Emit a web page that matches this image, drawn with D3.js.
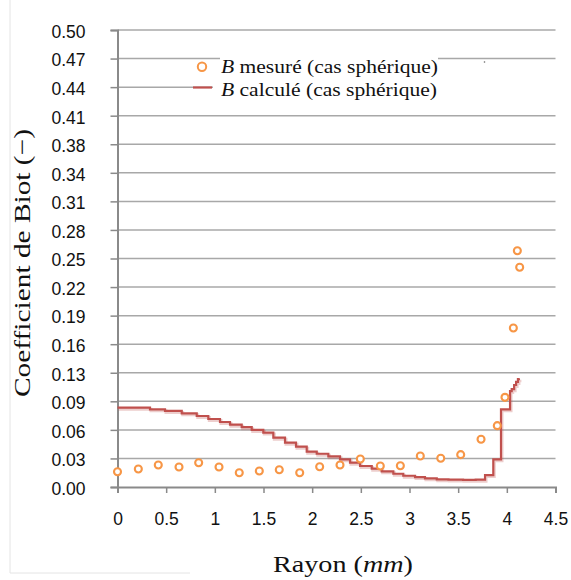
<!DOCTYPE html>
<html>
<head>
<meta charset="utf-8">
<script src="https://cdn.jsdelivr.net/npm/d3@7/dist/d3.min.js"></script>
<style>
  html, body { margin: 0; padding: 0; background: #fff; }
  svg { display: block; }
</style>
</head>
<body>
<svg id="chart" width="571" height="580"></svg>
<script>
// ---- data ----
const xTickValues = [0, 0.5, 1, 1.5, 2, 2.5, 3, 3.5, 4, 4.5];
const xTickLabels = ["0", "0.5", "1", "1.5", "2", "2.5", "3", "3.5", "4", "4.5"];
const yTickValues = d3.range(17).map(i => i * 0.5 / 16);
const yTickLabels = ["0.00","0.03","0.06","0.09","0.13","0.16","0.19","0.22","0.25","0.28","0.31","0.34","0.38","0.41","0.44","0.47","0.50"];

// measured (circles)
const mesX = [0, 0.214, 0.419, 0.632, 0.834, 1.043, 1.251, 1.457, 1.662, 1.872, 2.077, 2.286, 2.495, 2.70, 2.906, 3.111, 3.321, 3.526, 3.735, 3.902, 3.981, 4.067, 4.108, 4.132];
const mesY = [0.0167, 0.0197, 0.0241, 0.0219, 0.0265, 0.0219, 0.0156, 0.0175, 0.0189, 0.0156, 0.0222, 0.0241, 0.0306, 0.0230, 0.0233, 0.0339, 0.0314, 0.0354, 0.0522, 0.0671, 0.0981, 0.174, 0.2585, 0.2404];

// calculated (step line)
const calcX = [0, 0.334, 0.488, 0.66, 0.814, 0.933, 1.053, 1.156, 1.276, 1.379, 1.498, 1.601, 1.721, 1.834, 1.944, 2.047, 2.166, 2.286, 2.389, 2.492, 2.612, 2.714, 2.834, 2.936, 3.057, 3.159, 3.28, 3.40, 3.55, 3.68, 3.776, 3.861, 3.94, 4.033, 4.05, 4.075, 4.095, 4.114, 4.124];
const calcY = [0.0868, 0.0850, 0.0832, 0.0806, 0.0777, 0.0744, 0.0711, 0.0682, 0.0654, 0.0624, 0.0595, 0.0540, 0.0485, 0.0441, 0.0387, 0.0364, 0.0336, 0.0303, 0.0266, 0.0230, 0.0200, 0.0172, 0.0145, 0.0123, 0.0109, 0.0095, 0.0084, 0.0081, 0.0079, 0.0080, 0.0131, 0.0303, 0.0850, 0.105, 0.107, 0.1116, 0.115, 0.118, 0.119];

const legendLabels = ["mesuré (cas sphérique)", "calculé (cas sphérique)"];

// ---- layout ----
const svg = d3.select("#chart");
const x = d3.scaleLinear().domain([0, 4.5]).range([117.5, 555.5]);
const y = d3.scaleLinear().domain([0, 0.5]).range([487, 30]);

const gridColor = "#a8a8a8";
const axisColor = "#8a8a8a";
const orange = "#f79646";
const red = "#c0504d";
const serif = "'Liberation Serif', 'Times New Roman', serif";
const sans = "'Liberation Sans', Arial, Helvetica, sans-serif";

svg.append("rect").attr("width", 571).attr("height", 580).attr("fill", "#fff");

// faint page border artifacts
svg.append("line").attr("x1", 10).attr("x2", 10).attr("y1", 0).attr("y2", 573)
  .attr("stroke", "#e4e4e4").attr("stroke-width", 1);
svg.append("line").attr("x1", 10).attr("x2", 190).attr("y1", 573).attr("y2", 573)
  .attr("stroke", "#e4e4e4").attr("stroke-width", 1);

// gridlines
svg.append("g").selectAll("line").data(yTickValues.filter(v => v > 0)).join("line")
  .attr("x1", x(0)).attr("x2", x(4.5))
  .attr("y1", d => y(d)).attr("y2", d => y(d))
  .attr("stroke", gridColor).attr("stroke-width", 1.5);

// y axis
const yAxis = d3.axisLeft(y).tickValues(yTickValues)
  .tickFormat((d, i) => yTickLabels[i]).tickSize(7).tickPadding(25);
const gy = svg.append("g").attr("transform", `translate(${x(0)},0)`).call(yAxis);
gy.select(".domain").attr("stroke", axisColor).attr("stroke-width", 2);
gy.selectAll(".tick line").attr("stroke", axisColor).attr("stroke-width", 1.5);
gy.selectAll(".tick text").attr("font-family", sans).attr("font-size", 17.5)
  .attr("fill", "#111").attr("dy", "0.42em");

// x axis
const xAxis = d3.axisBottom(x).tickValues(xTickValues)
  .tickFormat((d, i) => xTickLabels[i]).tickSize(6).tickPadding(20);
const gx = svg.append("g").attr("transform", `translate(0,${y(0)})`).call(xAxis);
gx.select(".domain").attr("stroke", axisColor).attr("stroke-width", 2);
gx.selectAll(".tick line").attr("stroke", axisColor).attr("stroke-width", 1.5);
gx.selectAll(".tick text").attr("font-family", sans).attr("font-size", 17.5).attr("fill", "#111");

// step line
const calcData = calcX.map((v, i) => [v, calcY[i]]);
const line = d3.line().x(d => x(d[0])).y(d => y(d[1])).curve(d3.curveStepAfter);
svg.append("path").datum(calcData).attr("d", line)
  .attr("fill", "none").attr("stroke", "rgba(192,80,77,0.28)").attr("stroke-width", 3)
  .attr("transform", "translate(1,1.5)");
svg.append("path").datum(calcData).attr("d", line)
  .attr("fill", "none").attr("stroke", red).attr("stroke-width", 2.2);

// circles
const mesData = mesX.map((v, i) => [v, mesY[i]]);
svg.append("g").selectAll("circle").data(mesData).join("circle")
  .attr("cx", d => x(d[0])).attr("cy", d => y(d[1])).attr("r", 3.5)
  .attr("fill", "#fff").attr("stroke", orange).attr("stroke-width", 2.1);

// legend
svg.append("rect").attr("x", 220).attr("y", 52).attr("width", 218).attr("height", 26).attr("fill", "#fff");
svg.append("rect").attr("x", 213).attr("y", 80).attr("width", 344).attr("height", 20).attr("fill", "#fff");
svg.append("circle").attr("cx", 202).attr("cy", 66.7).attr("r", 4.2)
  .attr("fill", "#fff").attr("stroke", orange).attr("stroke-width", 2);
svg.append("line").attr("x1", 193).attr("x2", 212).attr("y1", 87.5).attr("y2", 87.5)
  .attr("stroke", red).attr("stroke-width", 2.2);
svg.append("circle").attr("cx", 484.5).attr("cy", 62).attr("r", 0.8).attr("fill", "#666");

const legY = [72.5, 95.5];
const legW = [217, 216];
legendLabels.forEach((lab, i) => {
  const t = svg.append("text").attr("x", 221).attr("y", legY[i])
    .attr("font-family", serif).attr("font-size", 19.5).attr("fill", "#111")
    .attr("textLength", legW[i]).attr("lengthAdjust", "spacingAndGlyphs");
  t.append("tspan").attr("font-style", "italic").text("B");
  t.append("tspan").text(" " + lab);
});

// axis titles
const xt = svg.append("text").attr("x", 343).attr("y", 572).attr("text-anchor", "middle")
  .attr("font-family", serif).attr("font-size", 24).attr("fill", "#111")
  .attr("textLength", 140).attr("lengthAdjust", "spacingAndGlyphs");
xt.append("tspan").text("Rayon (");
xt.append("tspan").attr("font-style", "italic").text("mm");
xt.append("tspan").text(")");

svg.append("text").attr("transform", "translate(30,263) rotate(-90)")
  .attr("text-anchor", "middle").attr("font-family", serif).attr("font-size", 24)
  .attr("fill", "#111").attr("textLength", 268).attr("lengthAdjust", "spacingAndGlyphs")
  .text("Coefficient de Biot (−)");
</script>
</body>
</html>
